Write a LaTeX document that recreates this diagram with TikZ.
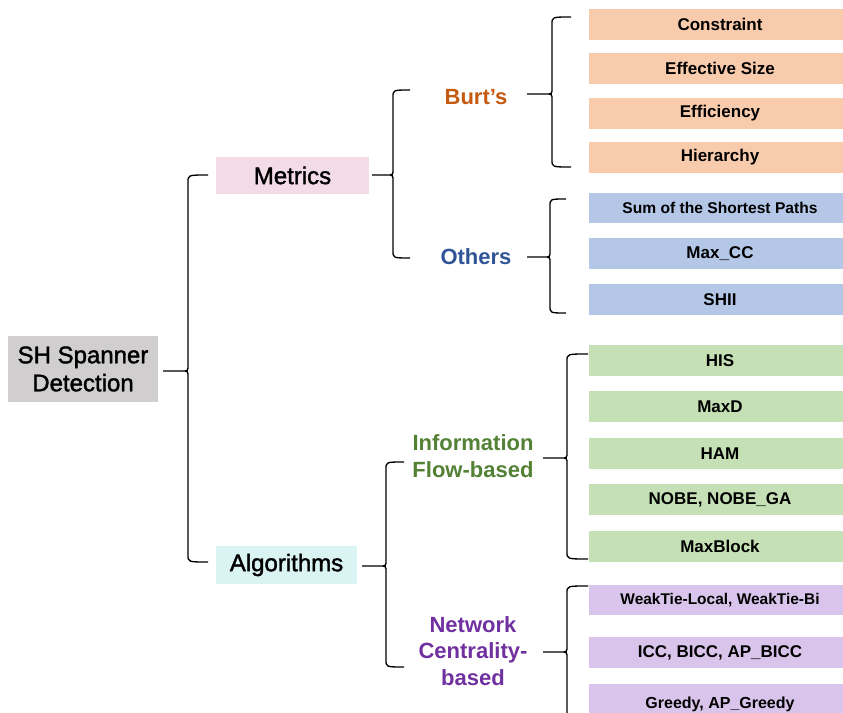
\documentclass[tikz,border=0pt]{standalone}
\usepackage{fontspec}
\setmainfont{Liberation Sans}
\newfontfamily\heavyfont[FakeBold=1.6]{Liberation Sans}
\definecolor{rootgray}{HTML}{D0CECE}
\definecolor{metpink}{HTML}{F3DCE7}
\definecolor{algcyan}{HTML}{DAF4F3}
\definecolor{leaforange}{HTML}{F8CBAD}
\definecolor{leafblue}{HTML}{B4C7E7}
\definecolor{leafgreen}{HTML}{C5E0B4}
\definecolor{leafpurple}{HTML}{D9C4EC}
\definecolor{txtorange}{HTML}{C55A11}
\definecolor{txtblue}{HTML}{2F5597}
\definecolor{txtgreen}{HTML}{538135}
\definecolor{txtpurple}{HTML}{7030A0}
% curly brace: tip x, spine x, arm end x, top y, tip y, bottom y
\newcommand\curlybrace[6]{%
  \draw[bracestyle] (#3,#4) .. controls (#2,#4) .. (#2,#4+7) -- (#2,#5-6)
    .. controls (#2,#5) .. (#2-6,#5) -- (#1,#5)
    (#2-6,#5) .. controls (#2,#5) .. (#2,#5+6) -- (#2,#6-7)
    .. controls (#2,#6) .. (#3,#6);}
\begin{document}
\begin{tikzpicture}[x=0.75pt,y=-0.75pt,
  pbox/.style 2 args={minimum width=#1*0.75pt, minimum height=#2*0.75pt,
    inner sep=0pt, outer sep=0pt},
  mainbox/.style={align=center, font=\heavyfont\fontsize{18}{21}\selectfont},
  catlabel/.style={align=center, inner sep=0pt,
    font=\fontsize{16.5}{20}\selectfont\bfseries},
  leaf/.style={pbox={262}{31}, font=\fontsize{12.75}{15}\selectfont\bfseries},
  bracestyle/.style={line width=1pt, black}]
\clip (0,0) rectangle (843,713);

% top-level boxes
\node[mainbox, pbox={150}{66}, fill=rootgray] (root) at (83,369) {SH Spanner\\Detection};
\node[mainbox, pbox={153}{37}, fill=metpink] (metrics) at (292.5,175.5) {Metrics};
\node[mainbox, pbox={141}{38}, fill=algcyan] (algo) at (286.5,565) {Algorithms};

% category labels
\node[catlabel, text=txtorange] (burts) at (476,97) {Burt’s};
\node[catlabel, text=txtblue] (others) at (476,257) {Others};
\node[catlabel, text=txtgreen] (info) at (473,456) {Information\\Flow-based};
\node[catlabel, text=txtpurple] (netw) at (473,651) {Network\\Centrality-\\based};

% leaves
\node[leaf, fill=leaforange] (l1) at (720,24.5) {Constraint};
\node[leaf, fill=leaforange] (l2) at (720,68.5) {Effective Size};
\node[leaf, fill=leaforange] (l3) at (720,113.5) {Efficiency};
\node[leaf, fill=leaforange] (l4) at (720,157.5) {Hierarchy};
\node[leaf, pbox={262}{30}, fill=leafblue, font=\fontsize{11.7}{14}\selectfont\bfseries] (l5) at (720,208) {Sum of the Shortest Paths};
\node[leaf, fill=leafblue] (l6) at (720,253.5) {Max\_CC};
\node[leaf, fill=leafblue] (l7) at (720,299.5) {SHII};
\node[leaf, fill=leafgreen] (l8) at (720,360.5) {HIS};
\node[leaf, fill=leafgreen] (l9) at (720,406.5) {MaxD};
\node[leaf, fill=leafgreen] (l10) at (720,453.5) {HAM};
\node[leaf, fill=leafgreen] (l11) at (720,499.5) {NOBE, NOBE\_GA};
\node[leaf, fill=leafgreen] (l12) at (720,546.5) {MaxBlock};
\node[leaf, pbox={262}{30}, fill=leafpurple, font=\fontsize{11.6}{14}\selectfont\bfseries] (l13) at (720,600) {WeakTie-Local, WeakTie-Bi};
\node[leaf, fill=leafpurple] (l14) at (720,652.5) {ICC, BICC, AP\_BICC};
\node[leaf, pbox={262}{40}, fill=leafpurple, font=\fontsize{12}{15}\selectfont\bfseries] (l15) at (720,704) {Greedy, AP\_Greedy};

% braces
\curlybrace{163}{188}{208}{175}{371}{562}
\curlybrace{372}{393}{410}{90}{175}{258}
\curlybrace{527}{552}{571}{17}{94}{167}
\curlybrace{527}{550}{566}{199}{257}{313}
\curlybrace{362}{386}{404}{462}{566}{667}
\curlybrace{543}{567}{588}{354}{458}{559}
\curlybrace{543}{567}{588}{586}{652}{718}
\end{tikzpicture}
\end{document}
